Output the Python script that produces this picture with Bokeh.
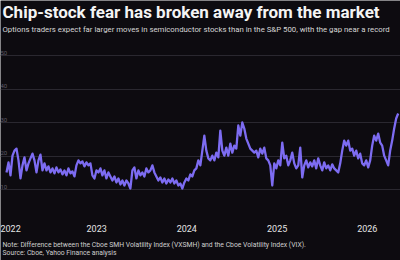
import pandas as pd
from bokeh.plotting import figure
from bokeh.models import Label, FixedTicker, Range1d, Grid
from bokeh.embed import file_html
from bokeh.resources import INLINE

title_text = "Chip-stock fear has broken away from the market"
subtitle_text = ("Options traders expect far larger moves in semiconductor stocks than in the "
                 "S&P 500, with the gap near a record")
note_text = "Note: Difference between the Cboe SMH Volatility Index (VXSMH) and the Cboe Volatility Index (VIX)."
source_text = "Source: Cboe, Yahoo Finance analysis"

start_date = "2022-01-01"
end_date = "2026-05-06"
# VXSMH minus VIX, points
spread = [
    15.1, 18.1, 14.2, 20.1, 21.6, 22.2, 18.7, 13.3, 17.2, 19.6,
    15.7, 17.8, 19.3, 20.7, 18.7, 15.1, 18.7, 20.4, 15.7, 17.8,
    15.7, 16.9, 15.1, 16.3, 14.8, 16.6, 15.1, 16.0, 14.5, 15.7,
    14.2, 16.3, 14.8, 15.4, 13.9, 17.2, 18.7, 17.8, 18.4, 16.9,
    18.1, 17.2, 17.8, 14.2, 13.3, 15.7, 15.1, 16.3, 14.2, 15.7,
    13.3, 15.1, 13.9, 12.7, 13.9, 12.1, 13.3, 11.5, 12.7, 11.2,
    12.7, 11.8, 10.3, 15.7, 16.6, 13.3, 15.7, 14.2, 15.1, 13.9,
    16.3, 15.1, 15.7, 17.2, 15.1, 13.9, 12.7, 13.6, 12.1, 13.3,
    11.8, 13.0, 12.1, 13.3, 11.8, 12.7, 11.2, 11.8, 10.3, 12.1,
    13.3, 12.7, 14.5, 13.9, 15.7, 16.3, 18.7, 17.2, 21.6, 26.1,
    21.6, 19.3, 18.7, 20.1, 18.7, 21.0, 19.6, 27.6, 21.6, 20.1,
    22.5, 20.1, 23.7, 21.0, 23.1, 22.2, 29.1, 26.1, 30.0, 28.2,
    25.2, 23.7, 22.2, 21.6, 21.0, 21.6, 19.6, 22.2, 20.7, 22.5,
    19.3, 18.7, 17.2, 11.2, 17.8, 16.3, 18.7, 17.2, 24.0, 19.3,
    20.1, 17.2, 18.7, 21.0, 17.8, 16.3, 17.2, 22.5, 13.6, 17.2,
    18.7, 16.6, 18.1, 16.9, 18.7, 16.3, 19.3, 17.2, 15.7, 18.1,
    16.3, 17.2, 15.7, 17.5, 16.3, 15.7, 15.1, 17.8, 21.6, 24.6,
    23.1, 24.6, 21.6, 22.2, 20.1, 21.6, 19.3, 20.7, 17.8, 17.2,
    18.7, 16.6, 18.7, 23.1, 26.1, 24.6, 26.7, 24.0, 23.1, 20.1,
    18.7, 17.2, 21.6, 24.6, 28.2, 31.2, 32.7,
]
dates = pd.date_range(start_date, end_date, periods=len(spread))
year_ticks = [2022, 2023, 2024, 2025, 2026]
y_ticks = [0, 10, 20, 30, 40, 50]

# ---- layout constants (pixels) ----
W, H = 400, 260
px_per_year = 90.2     # horizontal scale
first_px = 6           # where the series starts
px_per_unit = 3.35     # vertical scale
zero_py = 222.5        # where 0 sits

BG = "#0d0b10"
LINE = "#7d6cf2"
GRID = "#2a2830"

ms_year = 365.25 * 24 * 3600 * 1000
ms_per_px = ms_year / px_per_year
t0 = pd.Timestamp(start_date).value / 1e6
x_start = t0 - first_px * ms_per_px
x_end = x_start + W * ms_per_px
y_start = -(H - zero_py) / px_per_unit
y_end = zero_py / px_per_unit


def xpx(px):
    return x_start + px * ms_per_px


def ypx(py):
    return (zero_py - py) / px_per_unit


p = figure(width=W, height=H, x_axis_type="datetime",
           x_axis_location=None, y_axis_location=None,
           x_range=Range1d(x_start, x_end), y_range=Range1d(y_start, y_end),
           output_backend="svg", toolbar_location=None,
           min_border=0)
p.background_fill_color = BG
p.border_fill_color = BG
p.outline_line_color = None
p.grid.visible = False

p.add_layout(Grid(dimension=1, ticker=FixedTicker(ticks=y_ticks[1:]),
                  grid_line_color=GRID, grid_line_width=1))

p.line(dates, spread, line_color=LINE, line_width=2.3, line_join="round")


def label(x, y, text, **kw):
    p.add_layout(Label(x=x, y=y, text=text, text_font="Roboto", **kw))


# x tick labels (year starts)
for yr in year_ticks:
    tx = pd.Timestamp(f"{yr}-01-01").value / 1e6
    align = "center" if (tx - x_start) / ms_per_px > 9 else "left"
    label(tx if align == "center" else xpx(0), ypx(227.5), str(yr), text_align=align,
          text_baseline="middle", text_color="#e4e4e4", text_font_size="9px")

# y tick labels, tucked at the left edge
for t in y_ticks[1:]:
    label(xpx(0), t, str(t), text_align="left", text_baseline="bottom", y_offset=1,
          text_color="#5f5b68", text_font_size="6px")

label(xpx(2), ypx(11.5), title_text, text_align="left", text_baseline="middle",
      text_color="#f4f4f4", text_font_style="bold", text_font_size="17px")
label(xpx(2), ypx(28.5), subtitle_text, text_align="left", text_baseline="middle",
      text_color="#d6d6d6", text_font_size="7.8px")
label(xpx(2), ypx(244.5), note_text, text_align="left", text_baseline="middle",
      text_color="#cfcfcf", text_font_size="6.8px")
label(xpx(2), ypx(252.5), source_text, text_align="left", text_baseline="middle",
      text_color="#cfcfcf", text_font_size="6.8px")

open("out.html", "w").write(file_html(p, INLINE))
